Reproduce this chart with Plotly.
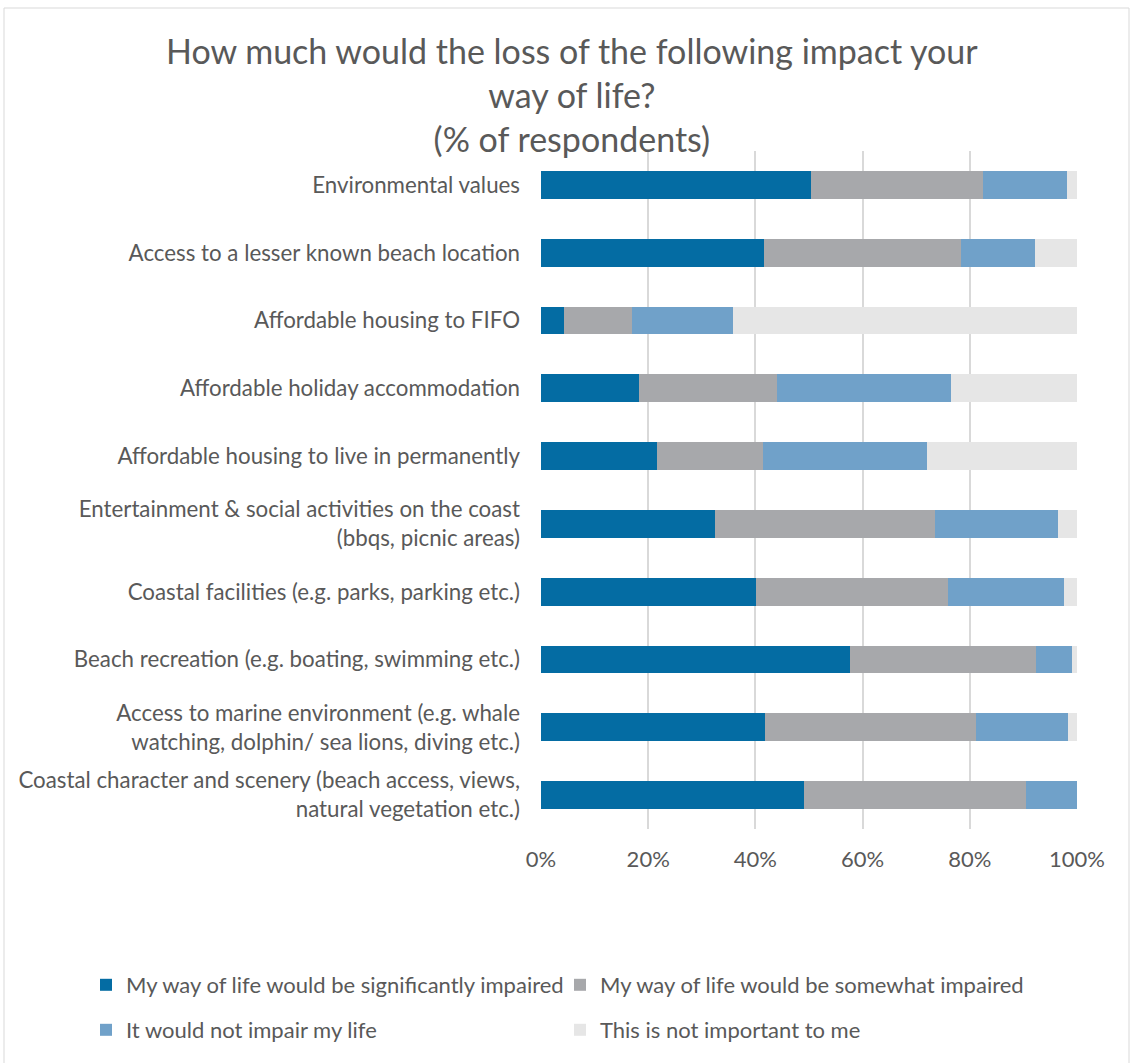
import plotly.graph_objects as go

# Survey items, listed top to bottom
categories = [
    "Environmental values",
    "Access to a lesser known beach location",
    "Affordable housing to FIFO",
    "Affordable holiday accommodation",
    "Affordable housing to live in permanently",
    "Entertainment & social activities on the coast<br>(bbqs, picnic areas)",
    "Coastal facilities (e.g. parks, parking etc.)",
    "Beach recreation (e.g. boating, swimming etc.)",
    "Access to marine environment (e.g. whale<br>watching, dolphin/ sea lions, diving etc.)",
    "Coastal character and scenery (beach access, views,<br>natural vegetation etc.)",
]

# Share of respondents (%) per response
significantly = [50.4, 41.6, 4.3, 18.2, 21.6, 32.4, 40.1, 57.6, 41.8, 49.0]
somewhat = [32.0, 36.7, 12.7, 25.8, 19.8, 41.1, 35.9, 34.7, 39.4, 41.5]
not_impair = [15.8, 13.8, 18.9, 32.4, 30.7, 23.0, 21.5, 6.8, 17.1, 9.5]
not_important = [1.8, 7.9, 64.1, 23.6, 27.9, 3.5, 2.5, 0.9, 1.7, 0.0]

series_names = [
    "My way of life would be significantly impaired",
    "My way of life would be somewhat impaired",
    "It would not impair my life",
    "This is not important to me",
]
series_values = [significantly, somewhat, not_impair, not_important]
series_colors = ["#046CA3", "#A7A8AB", "#70A1C9", "#E6E6E6"]

FONT = "Lato, 'Open Sans', sans-serif"
TEXT = "#595959"
W, H = 1133, 1063
L, R, T, B = 541, 56, 151, 234
PW, PH = W - L - R, H - T - B

# legend grid: 2 columns x 2 rows below the plot (pixel positions)
legend_ids = ["legend", "legend2", "legend3", "legend4"]
legend_x = [86, 560, 86, 560]
legend_y = [985, 985, 1030, 1030]

fig = go.Figure()
for name, vals, col, lg in zip(series_names, series_values, series_colors, legend_ids):
    fig.add_trace(go.Bar(
        y=categories,
        x=vals,
        name=name,
        orientation="h",
        marker=dict(color=col, line=dict(width=0)),
        width=0.41,
        legend=lg,
    ))

legend_layout = {}
for lg, lx, ly in zip(legend_ids, legend_x, legend_y):
    legend_layout[lg] = dict(
        orientation="h",
        xref="container",
        yref="container",
        x=lx / W,
        y=1 - ly / H,
        xanchor="left",
        yanchor="middle",
        font=dict(size=22, color=TEXT, family=FONT),
        itemwidth=30,
        bgcolor="rgba(0,0,0,0)",
    )

fig.update_layout(
    barmode="stack",
    width=W,
    height=H,
    paper_bgcolor="white",
    plot_bgcolor="white",
    font=dict(family=FONT, color=TEXT, size=22),
    margin=dict(l=L, r=R, t=T, b=B),
    xaxis=dict(
        range=[0, 100],
        tickvals=[0, 20, 40, 60, 80, 100],
        ticktext=["0%", "20%", "40%", "60%", "80%", "100%"],
        showgrid=True,
        gridcolor="#D9D9D9",
        gridwidth=2,
        zeroline=False,
        showline=False,
        ticks="",
        ticklabelstandoff=15,
        tickfont=dict(size=22, color=TEXT),
        fixedrange=True,
    ),
    yaxis=dict(
        autorange="reversed",
        showgrid=False,
        zeroline=False,
        showline=False,
        ticks="",
        ticklabelstandoff=20,
        tickfont=dict(size=22.3, color=TEXT),
    ),
    annotations=[
        dict(
            text="How much would the loss of the following impact your<br>way of life?<br>(% of respondents)",
            xref="paper",
            yref="paper",
            x=(572 - L) / PW,
            y=1 + (T - 28) / PH,
            xanchor="center",
            yanchor="top",
            showarrow=False,
            align="center",
            font=dict(family=FONT, size=34, color=TEXT),
        )
    ],
    shapes=[
        dict(
            type="rect",
            xref="paper",
            yref="paper",
            x0=(4 - L) / PW,
            x1=(1129 - L) / PW,
            y0=-(B + 10) / PH,
            y1=1 + (T - 8) / PH,
            line=dict(color="#D9D9D9", width=1),
            fillcolor="rgba(0,0,0,0)",
            layer="below",
        )
    ],
    showlegend=True,
    **legend_layout,
)

fig.write_html("out.html")
